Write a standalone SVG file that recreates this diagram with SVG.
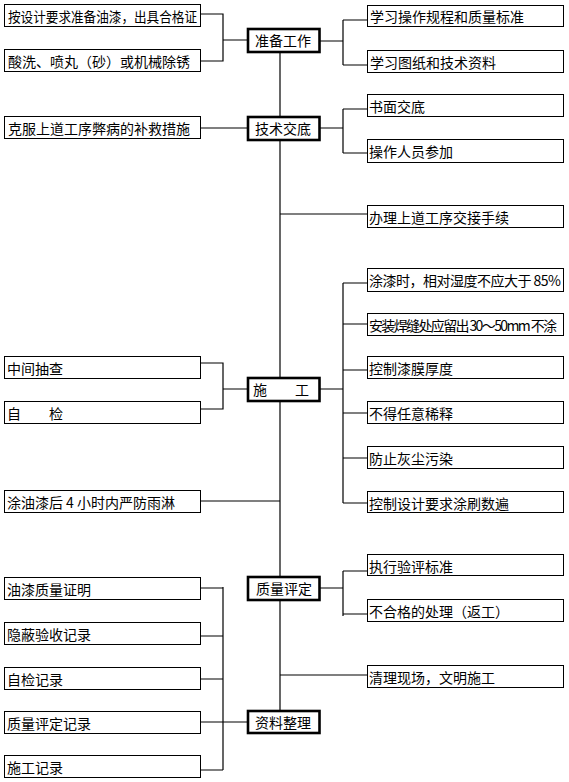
<svg xmlns="http://www.w3.org/2000/svg" width="569" height="782" viewBox="0 0 569 782">
<style>
.box{fill:#fff;stroke:#000;stroke-width:1}
.node{fill:#fff;stroke:#000;stroke-width:2.6}
.t{font-family:SimSun,"Noto Sans CJK SC",sans-serif;font-size:14px;fill:#000;dominant-baseline:central}
.c{fill:none;stroke:#000;stroke-width:1.2}
</style>
<rect width="569" height="782" fill="#fff"/>
<g id="connectors">
<path class="c" d="M280,52V712"/>
<path class="c" d="M200,14H223V61H200M223,40H247"/>
<path class="c" d="M320,41H343M343,20V65M343,20H367M343,65H367"/>
<path class="c" d="M200,128H247"/>
<path class="c" d="M320,128H343M343,109V153M343,109H367M343,153H367"/>
<path class="c" d="M280,214H367"/>
<path class="c" d="M200,363H223V409H200M223,389H247"/>
<path class="c" d="M320,389H343M343,283V503M343,283H367M343,324H367M343,370H367M343,413H367M343,458H367M343,503H367"/>
<path class="c" d="M280,501H200"/>
<path class="c" d="M320,588H343M343,571V616M343,571H367M343,614H367"/>
<path class="c" d="M280,675H367"/>
<path class="c" d="M200,588H223M200,636H223M200,679H223M200,722H223M200,770H223M223,587V770M223,722H247"/>
</g>
<g id="L1"><rect class="box" x="4.5" y="4.5" width="196" height="22"/><text class="t" x="8" y="16" textLength="189" lengthAdjust="spacingAndGlyphs">按设计要求准备油漆，出具合格证</text></g>
<g id="L2"><rect class="box" x="4.5" y="49.5" width="196" height="22"/><text class="t" x="8" y="61">酸洗、喷丸（砂）或机械除锈</text></g>
<g id="L3"><rect class="box" x="4.5" y="116.5" width="196" height="22"/><text class="t" x="8" y="128">克服上道工序弊病的补救措施</text></g>
<g id="L4"><rect class="box" x="4.5" y="356.5" width="196" height="22"/><text class="t" x="7" y="368">中间抽查</text></g>
<g id="L5"><rect class="box" x="4.5" y="401.5" width="196" height="22"/><text class="t" x="7" y="413">自　　检</text></g>
<g id="L6"><rect class="box" x="4.5" y="490.5" width="196" height="22"/><text class="t" x="7" y="502" textLength="168">涂油漆后 4 小时内严防雨淋</text></g>
<g id="L7"><rect class="box" x="4.5" y="577.5" width="196" height="22"/><text class="t" x="7" y="589">油漆质量证明</text></g>
<g id="L8"><rect class="box" x="4.5" y="622.5" width="196" height="22"/><text class="t" x="7" y="634">隐蔽验收记录</text></g>
<g id="L9"><rect class="box" x="4.5" y="667.5" width="196" height="22"/><text class="t" x="7" y="679">自检记录</text></g>
<g id="L10"><rect class="box" x="4.5" y="711.5" width="196" height="22"/><text class="t" x="7" y="723">质量评定记录</text></g>
<g id="L11"><rect class="box" x="4.5" y="755.5" width="196" height="22"/><text class="t" x="7" y="767">施工记录</text></g>
<g id="R1"><rect class="box" x="367.5" y="5.5" width="196" height="21"/><text class="t" x="370" y="16">学习操作规程和质量标准</text></g>
<g id="R2"><rect class="box" x="367.5" y="50.5" width="196" height="22"/><text class="t" x="370" y="62">学习图纸和技术资料</text></g>
<g id="R3"><rect class="box" x="367.5" y="94.5" width="196" height="22"/><text class="t" x="369" y="106">书面交底</text></g>
<g id="R4"><rect class="box" x="367.5" y="139.5" width="196" height="23"/><text class="t" x="369" y="151">操作人员参加</text></g>
<g id="R5"><rect class="box" x="367.5" y="205.5" width="196" height="22"/><text class="t" x="369" y="217">办理上道工序交接手续</text></g>
<g id="R6"><rect class="box" x="367.5" y="268.5" width="196" height="23"/><text class="t" x="369" y="280" textLength="192">涂漆时，相对湿度不应大于 85%</text></g>
<g id="R7"><rect class="box" x="367.5" y="313.5" width="196" height="22"/><text class="t" x="369" y="325" textLength="188">安装焊缝处应留出 30～50mm 不涂</text></g>
<g id="R8"><rect class="box" x="367.5" y="356.5" width="196" height="22"/><text class="t" x="369" y="368">控制漆膜厚度</text></g>
<g id="R9"><rect class="box" x="367.5" y="401.5" width="196" height="22"/><text class="t" x="369" y="413">不得任意稀释</text></g>
<g id="R10"><rect class="box" x="367.5" y="446.5" width="196" height="22"/><text class="t" x="369" y="458">防止灰尘污染</text></g>
<g id="R11"><rect class="box" x="367.5" y="491.5" width="196" height="21"/><text class="t" x="369" y="503">控制设计要求涂刷数遍</text></g>
<g id="R12"><rect class="box" x="367.5" y="554.5" width="196" height="21"/><text class="t" x="369" y="566">执行验评标准</text></g>
<g id="R13"><rect class="box" x="367.5" y="599.5" width="196" height="22"/><text class="t" x="369" y="611">不合格的处理（返工）</text></g>
<g id="R14"><rect class="box" x="367.5" y="665.5" width="196" height="22"/><text class="t" x="369" y="677">清理现场，文明施工</text></g>
<g id="N1"><rect class="node" x="248" y="29" width="71.5" height="23"/><text class="t" x="255" y="40">准备工作</text></g>
<g id="N2"><rect class="node" x="248" y="117" width="71.5" height="23"/><text class="t" x="255" y="128">技术交底</text></g>
<g id="N3"><rect class="node" x="248" y="378" width="71.5" height="23"/><text class="t" x="253" y="389">施　　工</text></g>
<g id="N4"><rect class="node" x="248" y="577" width="71.5" height="23"/><text class="t" x="256" y="588">质量评定</text></g>
<g id="N5"><rect class="node" x="248" y="711" width="71.5" height="22"/><text class="t" x="255" y="722">资料整理</text></g>
</svg>
